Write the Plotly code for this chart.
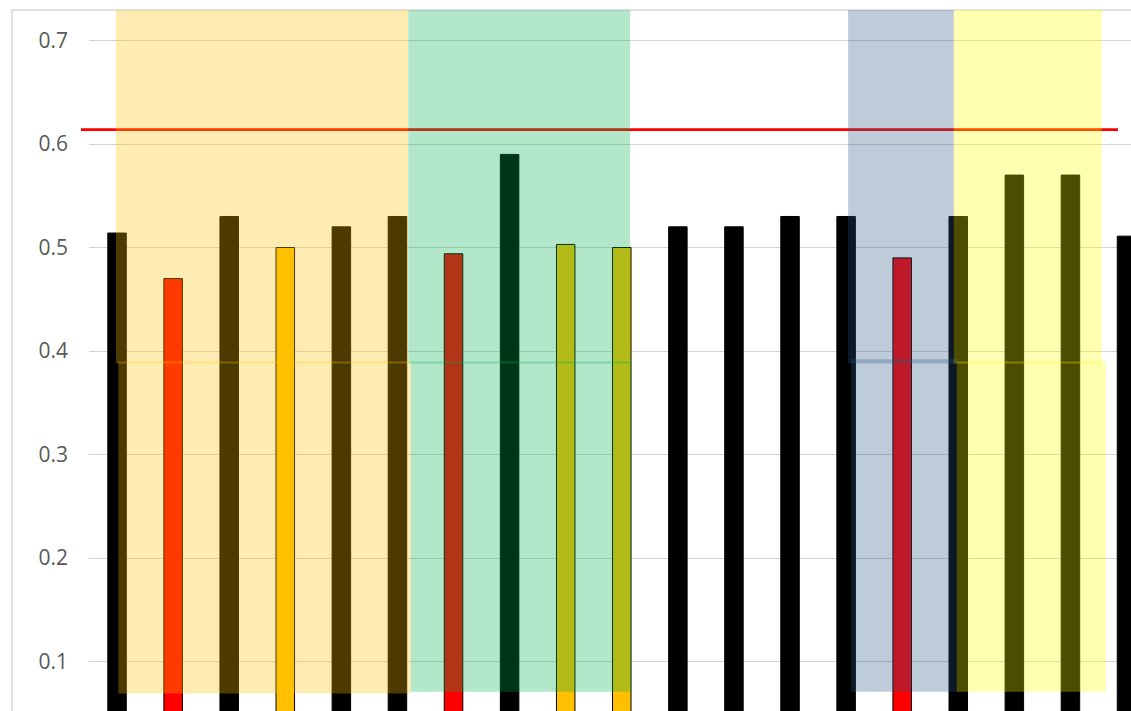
import plotly.graph_objects as go

# ---- data ----
bar_index = list(range(19))
bar_values = [0.514, 0.470, 0.530, 0.500, 0.520, 0.530, 0.494, 0.590, 0.503, 0.500,
              0.520, 0.520, 0.530, 0.530, 0.490, 0.530, 0.570, 0.570, 0.511]
bar_colors = ["#000000", "#FF0000", "#000000", "#FFC000", "#000000", "#000000",
              "#FF0000", "#000000", "#FFC000", "#FFC000", "#000000", "#000000",
              "#000000", "#000000", "#FF0000", "#000000", "#000000", "#000000", "#000000"]
threshold = 0.614
y_ticks = [0.1, 0.2, 0.3, 0.4, 0.5, 0.6, 0.7]
y_tick_labels = ["0.1", "0.2", "0.3", "0.4", "0.5", "0.6", "0.7"]

# shaded bands (category-axis units), each drawn as an upper and a lower panel
band_colors = ["rgba(255,192,0,0.3)", "rgba(0,176,80,0.3)",
               "rgba(40,87,133,0.3)", "rgba(255,255,0,0.3)"]
band_upper_x0 = [-0.018, 5.193, 13.035, 14.920]
band_upper_x1 = [5.189, 9.148, 14.920, 17.559]
band_lower_x0 = [0.023, 5.237, 13.088, 14.973]
band_lower_x1 = [5.237, 9.178, 14.973, 17.630]
band_lower_y0 = [0.069, 0.0708, 0.0708, 0.0708]
band_upper_y0 = [0.388, 0.388, 0.388, 0.388]
band_lower_y1 = [0.390, 0.390, 0.392, 0.390]

Y_RANGE = [0.0522, 0.7295]

fig = go.Figure()
fig.add_trace(go.Bar(
    x=bar_index, y=bar_values, width=0.33,
    marker=dict(color=bar_colors, line=dict(color="#000000", width=1)),
    hoverinfo="skip",
))

shapes = []
# chart frame
shapes.append(dict(type="rect", xref="paper", yref="paper",
                   x0=-0.0739, x1=1.2, y0=-0.2, y1=1.0,
                   line=dict(color="#D9D9D9", width=1.5), fillcolor="rgba(0,0,0,0)",
                   layer="below"))
# threshold line
shapes.append(dict(type="line", xref="paper", yref="y",
                   x0=-0.0077, x1=0.9875, y0=threshold, y1=threshold,
                   line=dict(color="#FF0000", width=2.7), layer="above"))
# bands
for c, ux0, ux1, uy0, lx0, lx1, ly0, ly1 in zip(
        band_colors, band_upper_x0, band_upper_x1, band_upper_y0,
        band_lower_x0, band_lower_x1, band_lower_y0, band_lower_y1):
    shapes.append(dict(type="rect", xref="x", yref="y",
                       x0=ux0, x1=ux1, y0=uy0, y1=Y_RANGE[1],
                       fillcolor=c, line=dict(width=0), layer="above"))
    shapes.append(dict(type="rect", xref="x", yref="y",
                       x0=lx0, x1=lx1, y0=ly0, y1=ly1,
                       fillcolor=c, line=dict(width=0), layer="above"))

fig.update_layout(
    width=1131, height=711, autosize=False,
    margin=dict(l=89, r=0, t=10, b=0),
    paper_bgcolor="white", plot_bgcolor="white",
    showlegend=False,
    shapes=shapes,
    xaxis=dict(range=[-0.5, 18.08], showticklabels=False, showgrid=False,
               zeroline=False, showline=False, ticks=""),
    yaxis=dict(range=Y_RANGE, tickvals=y_ticks, ticktext=y_tick_labels,
               showgrid=True, gridcolor="#D4D4D4", gridwidth=1.4,
               zeroline=False, showline=False, ticks="",
               tickfont=dict(family="Open Sans", size=21, color="#595959"),
               ticklabelstandoff=20),
)

fig.write_html("out.html", config={"displayModeBar": False})
